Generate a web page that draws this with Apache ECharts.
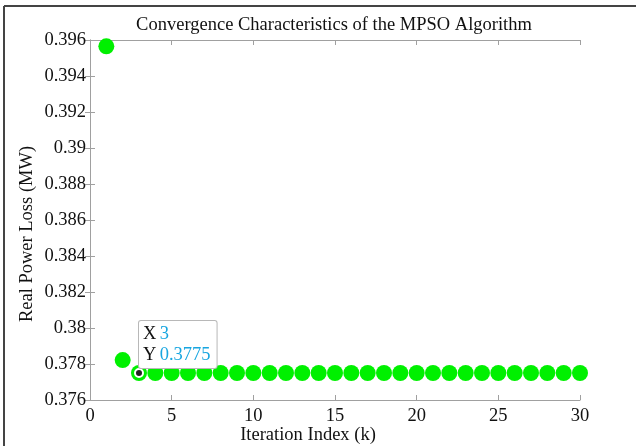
<!DOCTYPE html>
<html>
<head>
<meta charset="utf-8">
<script src="https://cdn.jsdelivr.net/npm/echarts@6/dist/echarts.min.js"></script>
<style>
  body { margin: 0; background: #fff; }
  #chart { width: 636px; height: 446px; }
</style>
</head>
<body>
<div id="chart"></div>
<script>
// iteration index and real power loss
var iterations = [];
for (var k = 1; k <= 30; k++) iterations.push(k);
var powerLoss = [0.39565, 0.37822, 0.3775, 0.3775, 0.3775, 0.3775, 0.3775, 0.3775, 0.3775, 0.3775,
                 0.3775, 0.3775, 0.3775, 0.3775, 0.3775, 0.3775, 0.3775, 0.3775, 0.3775, 0.3775,
                 0.3775, 0.3775, 0.3775, 0.3775, 0.3775, 0.3775, 0.3775, 0.3775, 0.3775, 0.3775];
var xTicks = [0, 5, 10, 15, 20, 25, 30];
var yTicks = ['0.376', '0.378', '0.38', '0.382', '0.384', '0.386', '0.388', '0.39', '0.392', '0.394', '0.396'];
var tipIndex = 2; // data tip shown on iteration 3

var font = 'Liberation Serif';
var fs = 18.5;
var axisGrey = '#a0a0a0';

var points = iterations.map(function (x, i) { return [x, powerLoss[i]]; });

var myChart = echarts.init(document.getElementById('chart'));

function trimNum(v) {
    return String(parseFloat(v.toFixed(3)));
}

var baseX = {
    type: 'value', min: 0, max: 30, interval: 5,
    axisLine: { show: true, lineStyle: { color: axisGrey, width: 1 } },
    axisTick: { show: true, inside: true, length: 5, lineStyle: { color: axisGrey } },
    splitLine: { show: false }
};
var baseY = {
    type: 'value', min: 0.376, max: 0.396, interval: 0.002,
    axisLine: { show: true, lineStyle: { color: axisGrey, width: 1 } },
    axisTick: { show: true, inside: true, length: 5, lineStyle: { color: axisGrey } },
    splitLine: { show: false }
};

myChart.setOption({
    animation: false,
    backgroundColor: '#fff',
    title: {
        text: 'Convergence Characteristics of the MPSO Algorithm',
        left: 329, top: 11, textAlign: 'center',
        textStyle: { fontFamily: font, fontSize: fs, fontWeight: 'normal', color: '#111' }
    },
    grid: { left: 90, right: 56, top: 40, bottom: 46, outerBoundsMode: 'none' },
    xAxis: [
        Object.assign({}, baseX, {
            position: 'bottom',
            name: 'Iteration Index (k)', nameLocation: 'middle', nameGap: 26,
            nameMoveOverlap: false,
            nameTextStyle: { fontFamily: font, fontSize: fs, color: '#111', padding: [0, 54, 0, 0] },
            axisLabel: { fontFamily: font, fontSize: fs, color: '#111', margin: 7 }
        }),
        Object.assign({}, baseX, { position: 'top', axisLabel: { show: false } })
    ],
    yAxis: [
        Object.assign({}, baseY, {
            position: 'left',
            name: 'Real Power Loss (MW)', nameLocation: 'middle', nameGap: 53,
            nameMoveOverlap: false,
            nameTextStyle: { fontFamily: font, fontSize: fs, color: '#111', padding: [0, 28, 0, 0] },
            axisLabel: {
                fontFamily: font, fontSize: fs, color: '#111', margin: 4,
                formatter: function (v) { return trimNum(v); }
            }
        }),
        Object.assign({}, baseY, { position: 'right', axisLabel: { show: false } })
    ],
    series: [
        {
            type: 'scatter',
            xAxisIndex: 0, yAxisIndex: 0,
            symbol: 'circle', symbolSize: 16,
            itemStyle: { color: '#00f000', opacity: 1 },
            data: points,
            z: 2
        },
        {
            type: 'scatter',
            xAxisIndex: 0, yAxisIndex: 0,
            symbol: 'circle', symbolSize: 8,
            itemStyle: { color: '#222', borderColor: '#fff', borderWidth: 2, opacity: 1 },
            data: [points[tipIndex]],
            label: {
                show: true,
                position: [5, -47],
                backgroundColor: '#fff',
                borderColor: '#b8b8b8',
                borderWidth: 1,
                borderRadius: 2,
                padding: [3, 6, 2, 4],
                formatter: function (p) {
                    return '{k|X} {v|' + p.value[0] + '}\n{k|Y} {v|' + p.value[1].toFixed(4) + '}';
                },
                rich: {
                    k: { fontFamily: font, fontSize: fs, color: '#111', lineHeight: 21 },
                    v: { fontFamily: font, fontSize: fs, color: '#18a6e0', lineHeight: 21 }
                }
            },
            z: 5
        }
    ],
    graphic: [
        { type: 'line', shape: { x1: 4, y1: 6, x2: 636, y2: 6 }, style: { stroke: '#444', lineWidth: 2 } },
        { type: 'line', shape: { x1: 4, y1: 6, x2: 4, y2: 446 }, style: { stroke: '#444', lineWidth: 2 } }
    ]
});
</script>
</body>
</html>
